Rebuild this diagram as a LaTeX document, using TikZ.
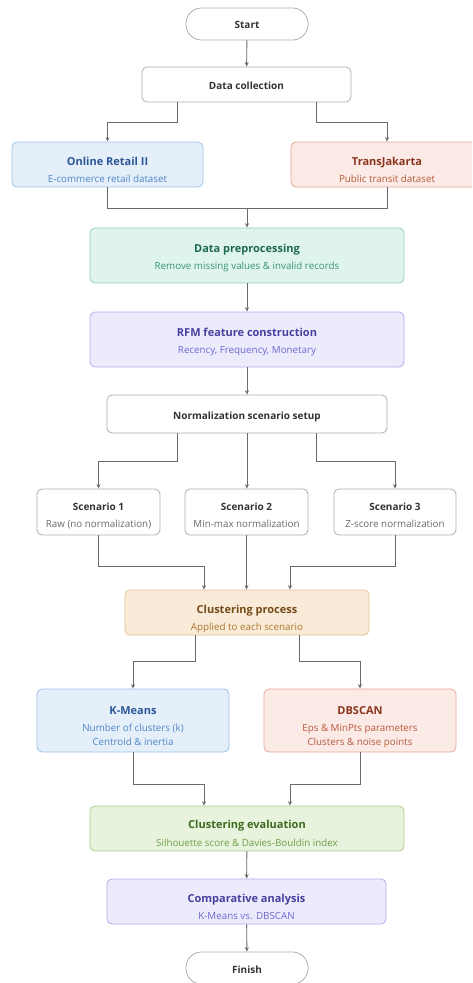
\documentclass[tikz,border=0pt]{standalone}
\usepackage{fontspec}
\setmainfont{Open Sans}
\usetikzlibrary{arrows.meta,calc}
\definecolor{bF}{HTML}{E5EFFA}\definecolor{bD}{HTML}{9EC2E8}\definecolor{bT}{HTML}{2B5797}\definecolor{bS}{HTML}{4F86C6}
\definecolor{rF}{HTML}{FBEAE5}\definecolor{rD}{HTML}{E3A896}\definecolor{rT}{HTML}{8A3520}\definecolor{rS}{HTML}{B85A3E}
\definecolor{gF}{HTML}{E0F4EE}\definecolor{gD}{HTML}{92D1B8}\definecolor{gT}{HTML}{1E6A4E}\definecolor{gS}{HTML}{3A9473}
\definecolor{pF}{HTML}{ECEBFC}\definecolor{pD}{HTML}{B3ACEC}\definecolor{pT}{HTML}{4A3E9E}\definecolor{pS}{HTML}{7166D3}
\definecolor{oF}{HTML}{FAEBD8}\definecolor{oD}{HTML}{E2C295}\definecolor{oT}{HTML}{744A1A}\definecolor{oS}{HTML}{A8762E}
\definecolor{lF}{HTML}{E8F3DD}\definecolor{lD}{HTML}{A9CD8A}\definecolor{lT}{HTML}{3C6A1E}\definecolor{lS}{HTML}{6C9E4A}
\definecolor{wD}{HTML}{AFAFAF}\definecolor{wT}{HTML}{333333}\definecolor{wS}{HTML}{6A6A6A}
\definecolor{lineC}{HTML}{6B6B6B}
\tikzset{
  box/.style 2 args={draw=#1D, fill=#1F, line width=0.8pt, rounded corners=5pt, minimum width=#2, inner sep=0pt},
  wbox/.style={draw=wD, fill=white, line width=0.8pt, rounded corners=5pt, inner sep=0pt},
  term/.style={draw=wD, fill=white, line width=0.8pt, rounded corners=15.5pt, minimum width=122pt, minimum height=32pt, inner sep=0pt},
  ttl/.style={text=#1, font=\fontsize{11}{13}\selectfont\bfseries, anchor=base, inner sep=0pt},
  wttl/.style={text=wT, font=\fontsize{10}{12}\selectfont\bfseries, anchor=base, inner sep=0pt},
  sub/.style={text=#1, font=\fontsize{9.8}{12}\selectfont, anchor=base, inner sep=0pt},
  arr/.style={draw=lineC, line width=0.9pt, -{Stealth[length=4.5pt,width=4pt]}},
  ln/.style={draw=lineC, line width=0.9pt},
}
\begin{document}
\begin{tikzpicture}[x=1pt,y=-1pt]
\useasboundingbox (0,0) rectangle (472,983);
\clip (0,0) rectangle (472,983);
% Start
\node[term] (start) at (247,24) {};
\node[wttl] (startT) at (247,28) {Start};
% Data collection
\node[wbox, minimum width=209pt, minimum height=35pt] (dc) at (246.5,84.5) {};
\node[wttl] (dcT) at (246.5,89) {Data collection};
% Online Retail II
\node[box={b}{191pt}, minimum height=45pt] (orl) at (107.5,164.5) {};
\node[ttl=bT] (orlT) at (107.5,165.5) {Online Retail II};
\node[sub=bS] (orlS) at (107.5,182) {E-commerce retail dataset};
% TransJakarta
\node[box={r}{192pt}, minimum height=45pt] (tj) at (387,164.5) {};
\node[ttl=rT] (tjT) at (387,165.5) {TransJakarta};
\node[sub=rS] (tjS) at (387,182) {Public transit dataset};
% Data preprocessing
\node[box={g}{314pt}, minimum height=55pt] (pre) at (247,255.5) {};
\node[ttl=gT] (preT) at (247,252.5) {Data preprocessing};
\node[sub=gS] (preS) at (247,269) {Remove missing values \& invalid records};
% RFM
\node[box={p}{314pt}, minimum height=55pt] (rfm) at (247,339.5) {};
\node[ttl=pT] (rfmT) at (247,336.5) {RFM feature construction};
\node[sub=pS] (rfmS) at (247,353) {Recency, Frequency, Monetary};
% Normalization
\node[wbox, minimum width=280pt, minimum height=38pt] (norm) at (247,414) {};
\node[wttl] (normT) at (247,419.5) {Normalization scenario setup};
% Scenarios
\node[wbox, minimum width=123pt, minimum height=46pt] (s1) at (98.5,512) {};
\node[wttl] (s1T) at (98.5,510.5) {Scenario 1};
\node[sub=wS] (s1S) at (98.5,527.5) {Raw (no normalization)};
\node[wbox, minimum width=123pt, minimum height=46pt] (s2) at (246.5,512) {};
\node[wttl] (s2T) at (246.5,510.5) {Scenario 2};
\node[sub=wS] (s2S) at (246.5,527.5) {Min-max normalization};
\node[wbox, minimum width=122pt, minimum height=46pt] (s3) at (395,512) {};
\node[wttl] (s3T) at (395,510.5) {Scenario 3};
\node[sub=wS] (s3S) at (395,527.5) {Z-score normalization};
% Clustering process
\node[box={o}{244pt}, minimum height=45pt] (cp) at (247,612.5) {};
\node[ttl=oT] (cpT) at (247,613) {Clustering process};
\node[sub=oS] (cpS) at (247,630) {Applied to each scenario};
% K-Means
\node[box={b}{192pt}, minimum height=63pt] (km) at (133,720.5) {};
\node[ttl=bT] (kmT) at (133,714.5) {K-Means};
\node[sub=bS] (kmS1) at (133,731) {Number of clusters (k)};
\node[sub=bS] (kmS2) at (133,745) {Centroid \& inertia};
% DBSCAN
\node[box={r}{192pt}, minimum height=63pt] (db) at (360,720.5) {};
\node[ttl=rT] (dbT) at (360,714.5) {DBSCAN};
\node[sub=rS] (dbS1) at (360,731) {Eps \& MinPts parameters};
\node[sub=rS] (dbS2) at (360,745) {Clusters \& noise points};
% Evaluation
\node[box={l}{314pt}, minimum height=45pt] (ev) at (247,828.5) {};
\node[ttl=lT] (evT) at (247,828.5) {Clustering evaluation};
\node[sub=lS] (evS) at (247,846) {Silhouette score \& Davies-Bouldin index};
% Comparative
\node[box={p}{279pt}, minimum height=45pt] (ca) at (246.5,901.5) {};
\node[ttl=pT] (caT) at (246.5,902.5) {Comparative analysis};
\node[sub=pS] (caS) at (246.5,919.5) {K-Means vs. DBSCAN};
% Finish
\node[term] (fin) at (247,968) {};
\node[wttl] (finT) at (247,973) {Finish};
% connectors
\draw[arr] (start) -- (dc);
\draw[arr] ([xshift=-69.5pt]dc.south) -- ++(0,20) -| (orl.north);
\draw[arr] ([xshift=69.5pt]dc.south) -- ++(0,20) -| (tj.north);
\draw[ln] (orl.south) -- ++(0,21) -| (tj.south);
\coordinate (mrg) at ($(orl.south)!0.5!(tj.south)+(0,21)$);
\draw[arr] (mrg -| pre.north) -- (pre.north);
\draw[arr] (pre) -- (rfm);
\draw[arr] (rfm) -- (norm);
\draw[arr] ([xshift=-69.5pt]norm.south) -- ++(0,28) -| (s1.north);
\draw[arr] (norm.south) -- (norm.south |- s2.north);
\draw[arr] ([xshift=69.5pt]norm.south) -- ++(0,28) -| (s3.north);
\draw[arr] (s1.south) -- ++(0,31) -| ([xshift=-43pt]cp.north);
\draw[arr] (s2.south) -- (s2.south |- cp.north);
\draw[arr] (s3.south) -- ++(0,31) -| ([xshift=43pt]cp.north);
\draw[arr] ([xshift=-52pt]cp.south) -- ++(0,26) -| (km.north);
\draw[arr] ([xshift=52pt]cp.south) -- ++(0,26) -| (db.north);
\draw[arr] (km.south) -- ++(0,32) -| ([xshift=-43pt]ev.north);
\draw[arr] (db.south) -- ++(0,32) -| ([xshift=43pt]ev.north);
\draw[arr] (ev) -- (ca);
\draw[arr] (ca) -- (fin);
\end{tikzpicture}
\end{document}
